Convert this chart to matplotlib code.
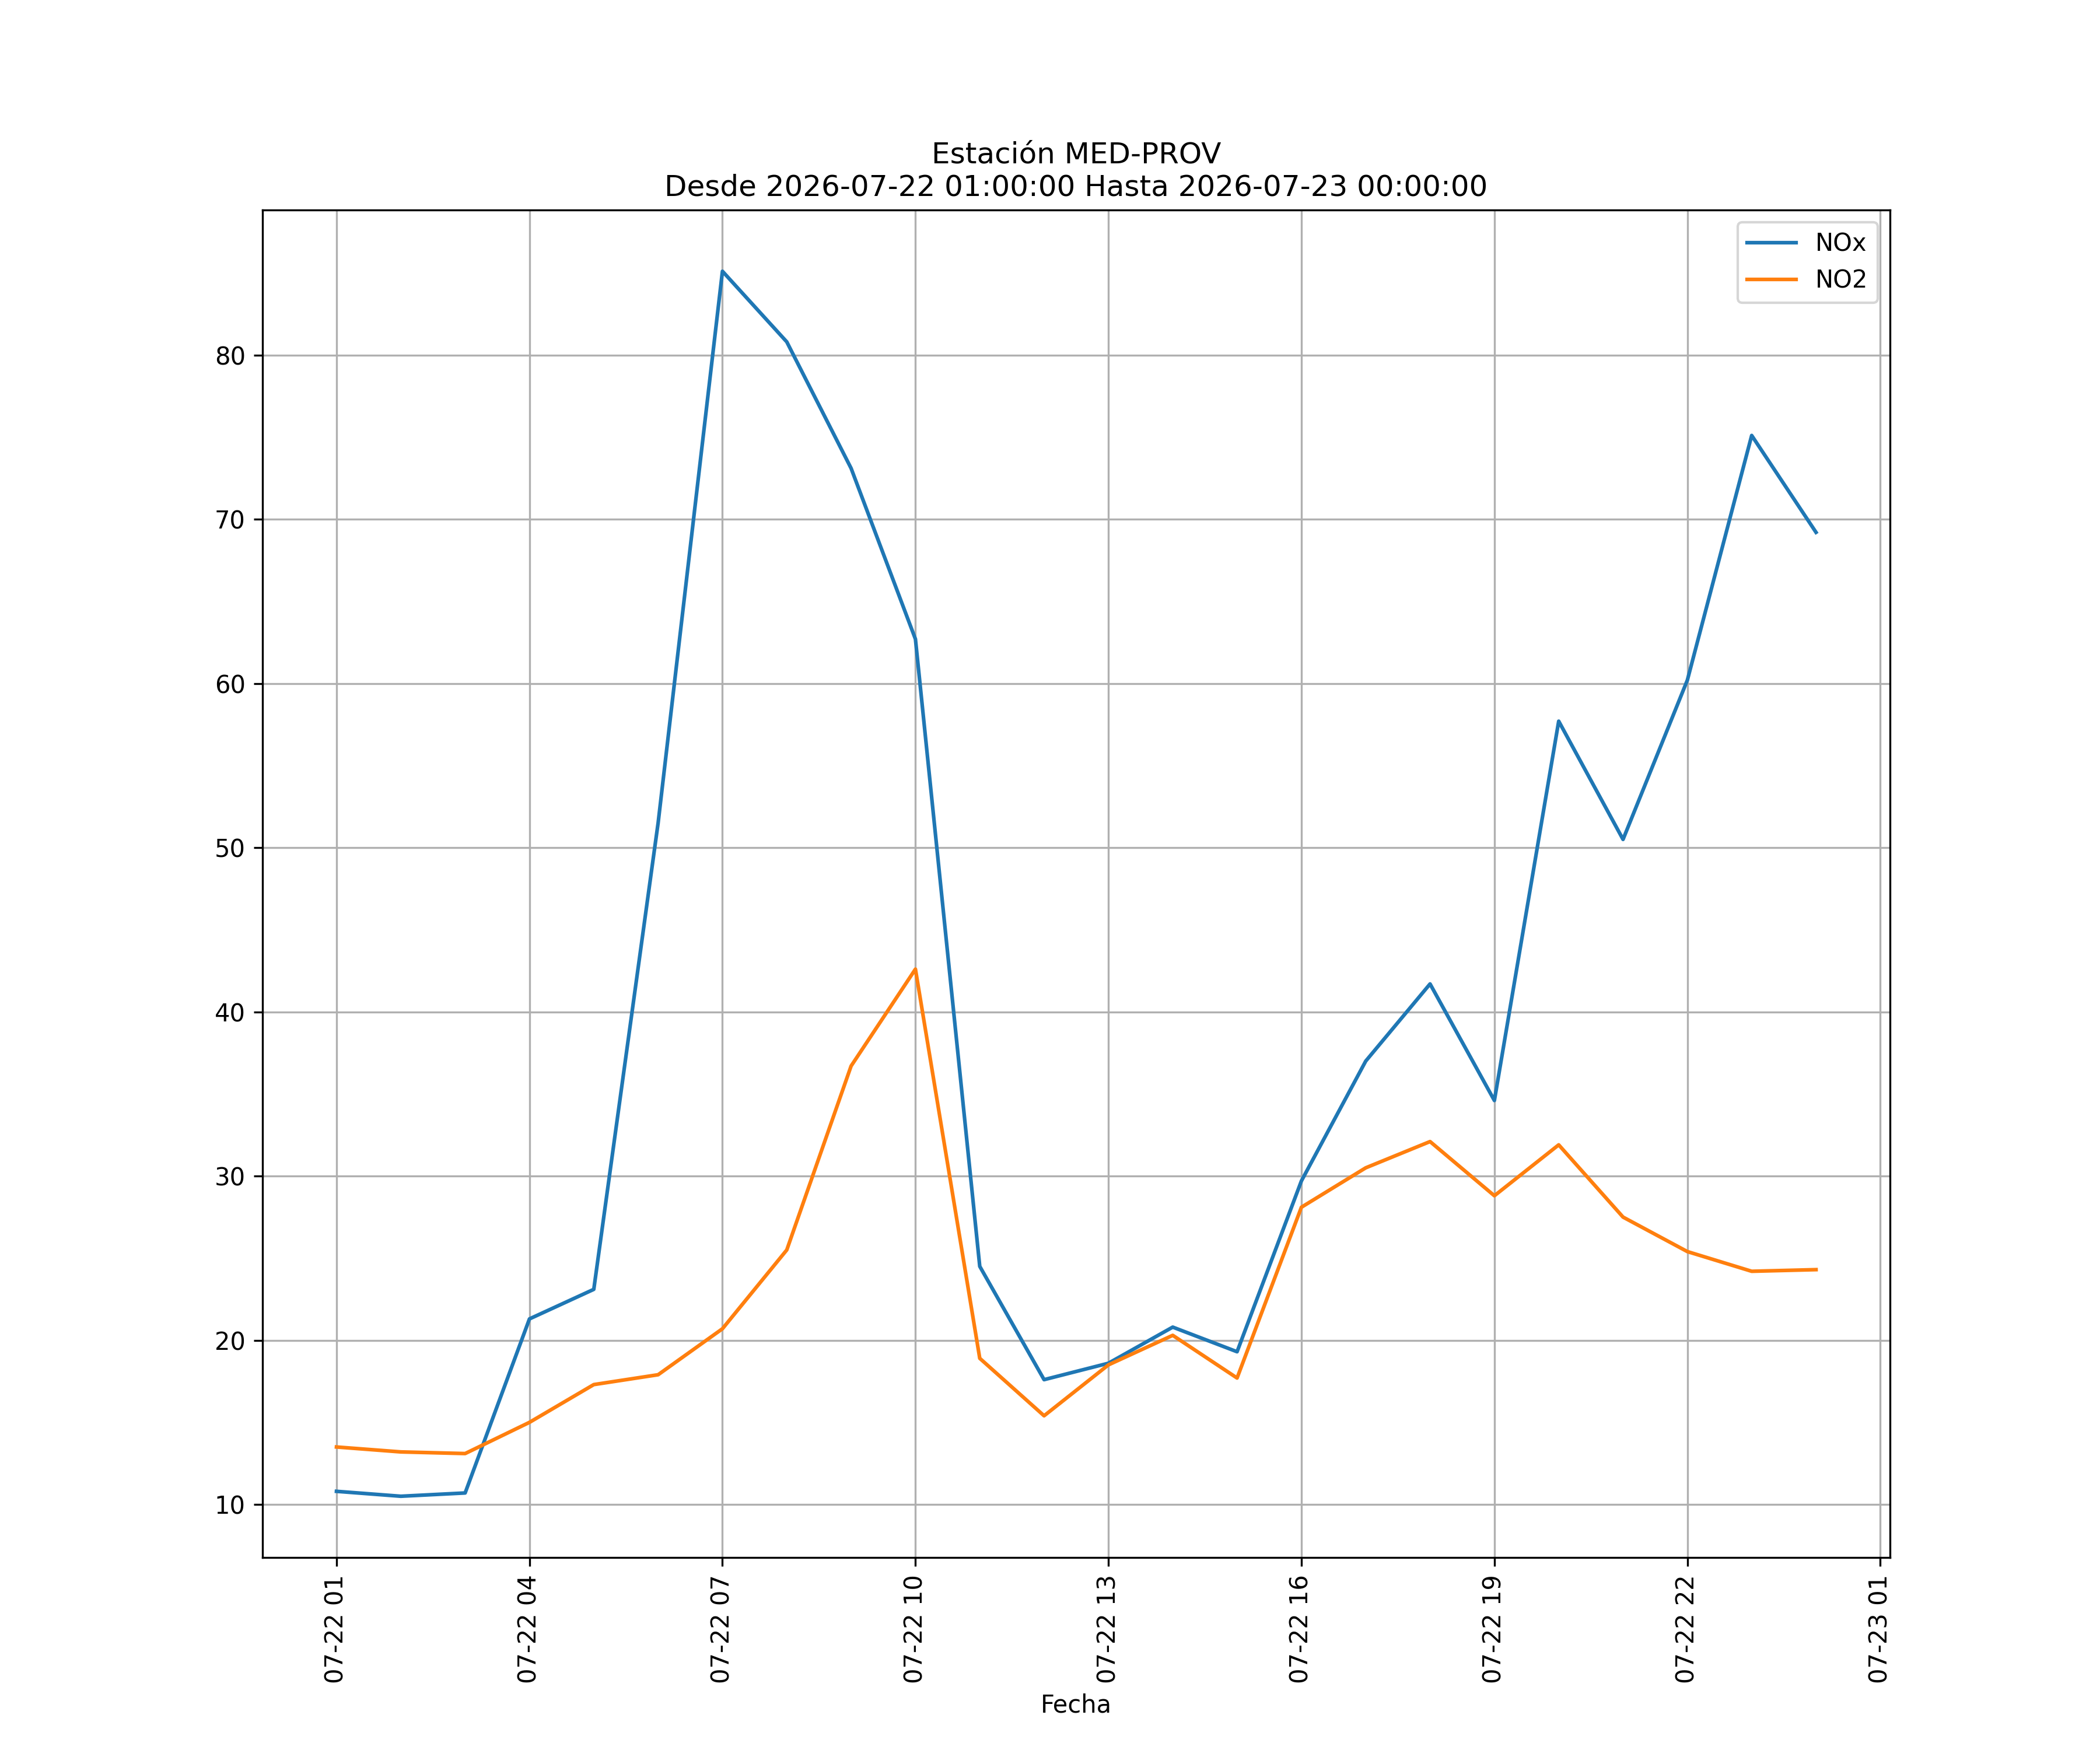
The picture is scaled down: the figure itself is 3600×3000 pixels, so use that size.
import matplotlib
matplotlib.use("Agg")
import matplotlib.pyplot as plt
import matplotlib.dates as mdates
import pandas as pd

fechas = pd.date_range("2026-07-22 01:00:00", "2026-07-23 00:00:00", freq="h")
nox = [10.8, 10.5, 10.7, 21.3, 23.1, 51.5, 85.1, 80.8, 73.1, 62.7, 24.5, 17.6,
       18.6, 20.8, 19.3, 29.7, 37.0, 41.7, 34.6, 57.7, 50.5, 60.2, 75.1, 69.2]
no2 = [13.5, 13.2, 13.1, 15.0, 17.3, 17.9, 20.7, 25.5, 36.7, 42.6, 18.9, 15.4,
       18.5, 20.3, 17.7, 28.1, 30.5, 32.1, 28.8, 31.9, 27.5, 25.4, 24.2, 24.3]

fig, ax = plt.subplots(figsize=(12, 10))
ax.plot(fechas, nox, label="NOx")
ax.plot(fechas, no2, label="NO2")
ax.xaxis.set_major_locator(mdates.HourLocator(byhour=range(1, 24, 3)))
ax.xaxis.set_major_formatter(mdates.DateFormatter("%m-%d %H"))
plt.setp(ax.get_xticklabels(), rotation=90)
ax.set_xlabel("Fecha")
ax.set_title("Estación MED-PROV\nDesde 2026-07-22 01:00:00 Hasta 2026-07-23 00:00:00")
ax.grid(True)
ax.legend(loc="upper right")
fig.savefig("out.png", dpi=300)
